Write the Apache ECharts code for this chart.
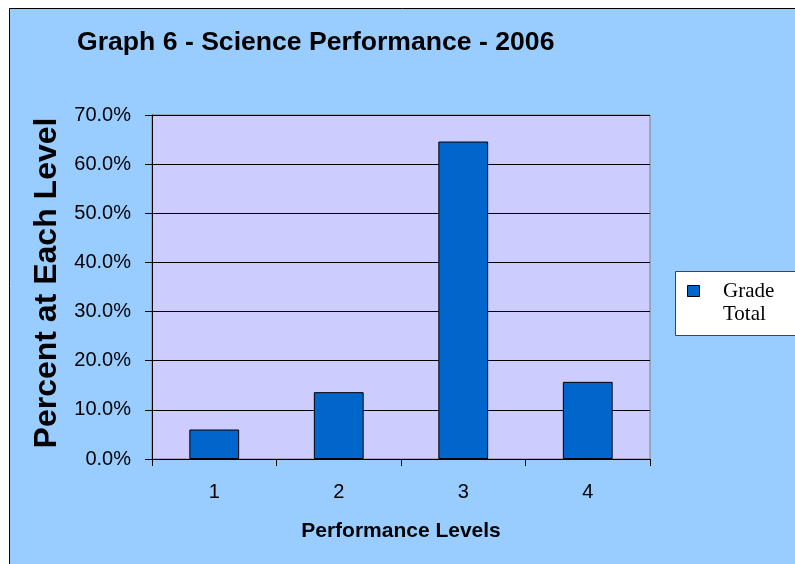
<!DOCTYPE html>
<html>
<head>
<meta charset="utf-8">
<script src="https://cdn.jsdelivr.net/npm/echarts@6/dist/echarts.min.js"></script>
<style>html,body{margin:0;padding:0;background:#fff}#c{width:795px;height:564px}</style>
</head>
<body>
<div id="c"></div>
<script>
var titleText = 'Graph 6 - Science Performance - 2006';
var categories = ['1', '2', '3', '4'];
var seriesName = 'Grade Total';
var legendLines = ['Grade', 'Total'];
var values = [6.0, 13.6, 64.6, 15.7];
var yTicks = { min: 0, max: 70, interval: 10 };
var xAxisName = 'Performance Levels';
var yAxisName = 'Percent at Each Level';

var barColor = '#0066CC';
var chart = echarts.init(document.getElementById('c'), null, { renderer: 'canvas' });
chart.setOption({
  backgroundColor: '#FFFFFF',
  animation: false,
  graphic: [{
    type: 'rect', z: -100, silent: true,
    shape: { x: 9.5, y: 8.5, width: 800, height: 570 },
    style: { fill: '#99CCFF', stroke: '#000000', lineWidth: 1 }
  }, {
    type: 'group', left: 675, top: 271, z: 10,
    children: [{
      type: 'rect', shape: { x: 0.5, y: 0.5, width: 130, height: 64 },
      style: { fill: '#FFFFFF', stroke: '#3a4658', lineWidth: 1 }
    }, {
      type: 'rect', shape: { x: 12.5, y: 14.5, width: 12, height: 11 },
      style: { fill: barColor, stroke: '#000000', lineWidth: 1 }
    }, {
      type: 'text', x: 48, y: 9,
      style: { text: legendLines.join('\n'), fontFamily: 'Liberation Serif', fontSize: 21, lineHeight: 23, fill: '#000' }
    }]
  }],
  title: {
    text: titleText, left: 77, top: 29, padding: 0,
    textStyle: { fontFamily: 'Liberation Sans', fontWeight: 'bold', fontSize: 26.6, color: '#000' }
  },
  grid: {
    left: 152, right: 145, top: 115, bottom: 105,
    show: true, backgroundColor: '#CCCCFF', borderColor: '#808080', borderWidth: 1
  },
  xAxis: {
    type: 'category', data: categories,
    name: xAxisName, nameLocation: 'middle', nameGap: 62,
    nameTextStyle: { fontFamily: 'Liberation Sans', fontWeight: 'bold', fontSize: 21, color: '#000' },
    axisLine: { lineStyle: { color: '#000', width: 1 } },
    axisTick: { show: true, alignWithLabel: false, length: 7, lineStyle: { color: '#000' } },
    axisLabel: { margin: 23, fontFamily: 'Liberation Sans', fontSize: 20, color: '#000' }
  },
  yAxis: {
    type: 'value', min: yTicks.min, max: yTicks.max, interval: yTicks.interval,
    name: yAxisName, nameLocation: 'middle', nameGap: 83, nameRotate: 90,
    nameTextStyle: { fontFamily: 'Liberation Sans', fontWeight: 'bold', fontSize: 32, color: '#000', padding: [0, 0, 0, 8] },
    axisLine: { show: true, lineStyle: { color: '#000', width: 1 } },
    axisTick: { show: true, length: 7, lineStyle: { color: '#000' } },
    axisLabel: {
      margin: 21, fontFamily: 'Liberation Sans', fontSize: 20, color: '#000',
      formatter: function (v) { return v.toFixed(1) + '%'; }
    },
    splitLine: { show: true, lineStyle: { color: '#000', width: 1 } }
  },
  series: [{
    name: seriesName, type: 'bar', data: values, barWidth: '40%',
    itemStyle: { color: barColor, borderColor: '#000', borderWidth: 1 }
  }]
});
</script>
</body>
</html>
